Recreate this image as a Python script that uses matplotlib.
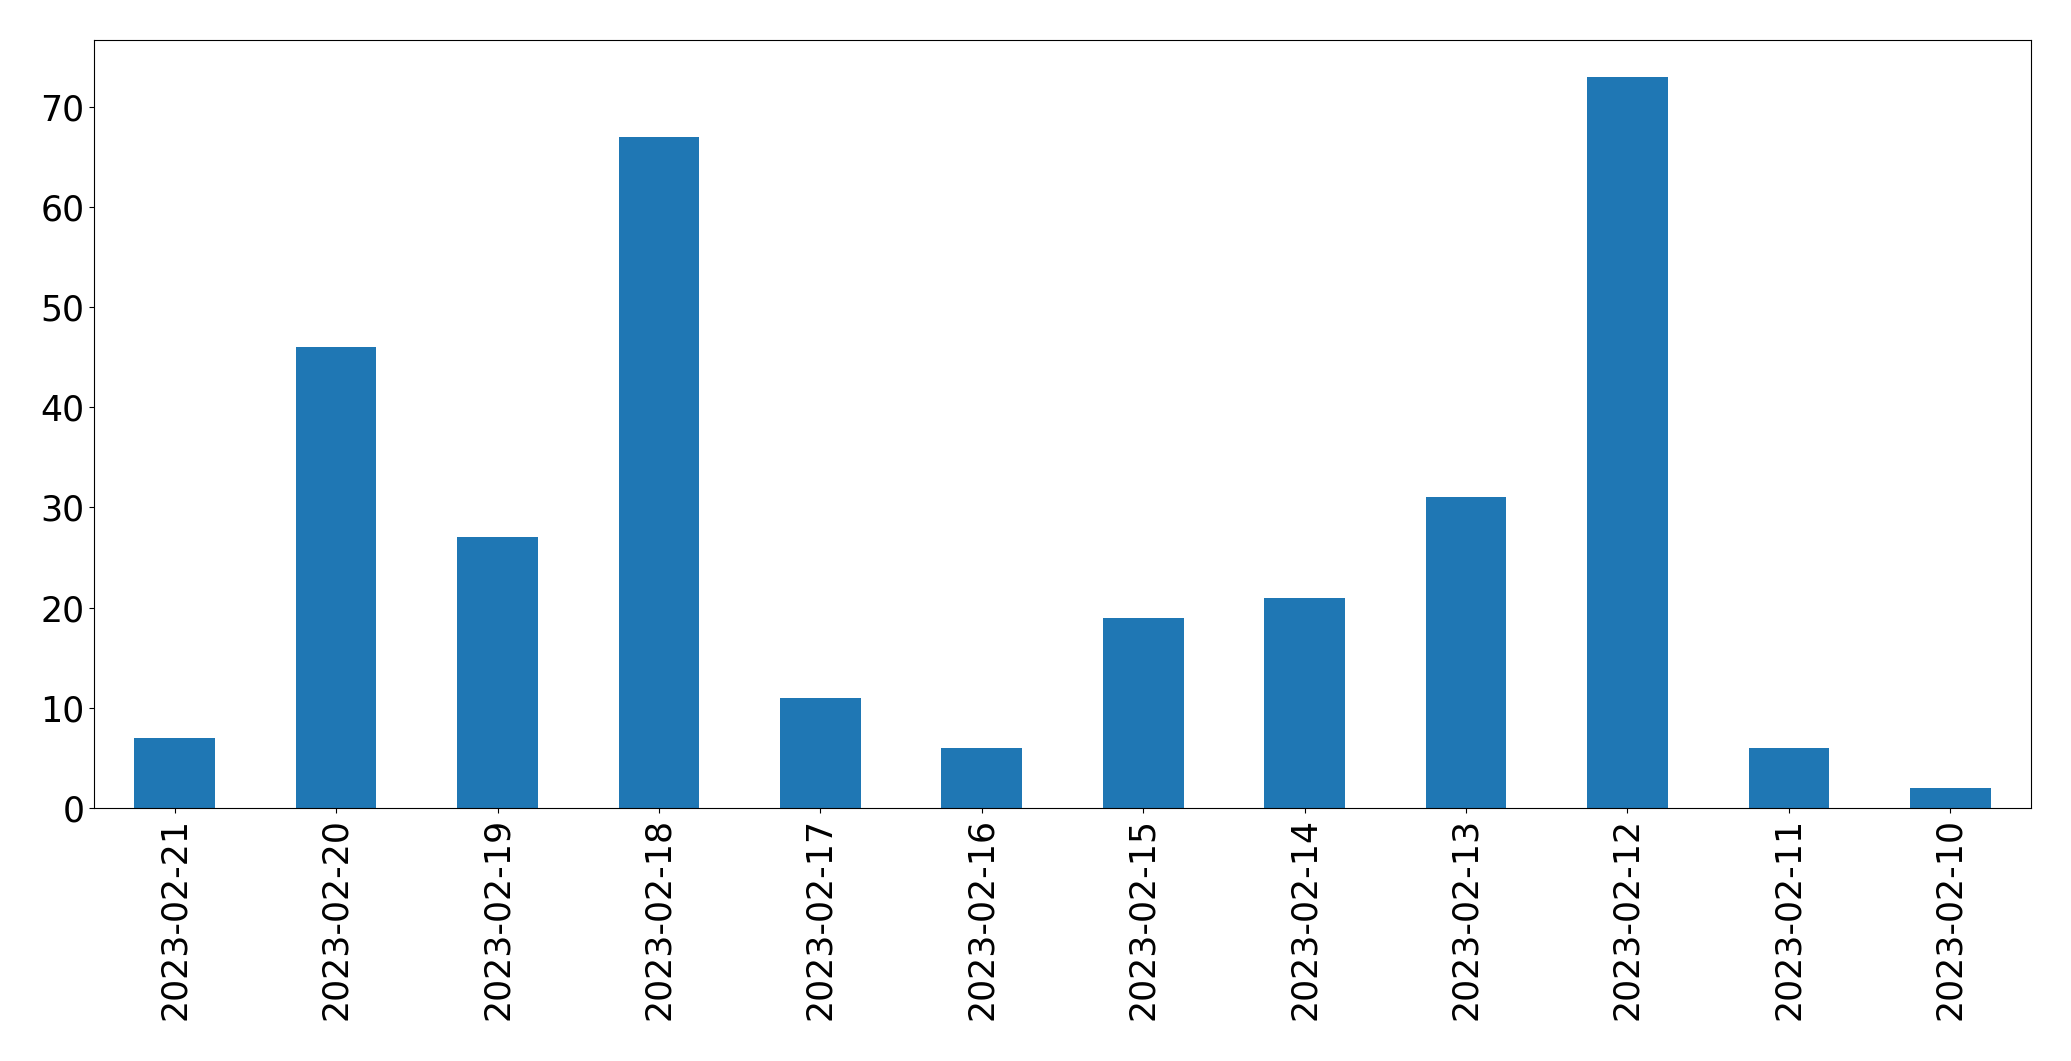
import matplotlib
matplotlib.use("Agg")
import matplotlib.pyplot as plt

dates = ["2023-02-21", "2023-02-20", "2023-02-19", "2023-02-18", "2023-02-17", "2023-02-16",
         "2023-02-15", "2023-02-14", "2023-02-13", "2023-02-12", "2023-02-11", "2023-02-10"]
counts = [7, 46, 27, 67, 11, 6, 19, 21, 31, 73, 6, 2]

fig = plt.figure(figsize=(20.71, 10.61), dpi=100)
ax = fig.add_axes([94/2071, 1 - 808/1061, (2031-94)/2071, (808-40)/1061])
x = range(len(dates))
ax.bar(x, counts, width=0.5, color="#1f77b4")
ax.set_xlim(-0.5, len(dates) - 0.5)
ax.set_ylim(0, max(counts) * 1.05)
ax.set_xticks(list(x))
ax.set_xticklabels(dates, rotation=90)
ax.tick_params(labelsize=25)
fig.savefig("out.png", dpi=100)
